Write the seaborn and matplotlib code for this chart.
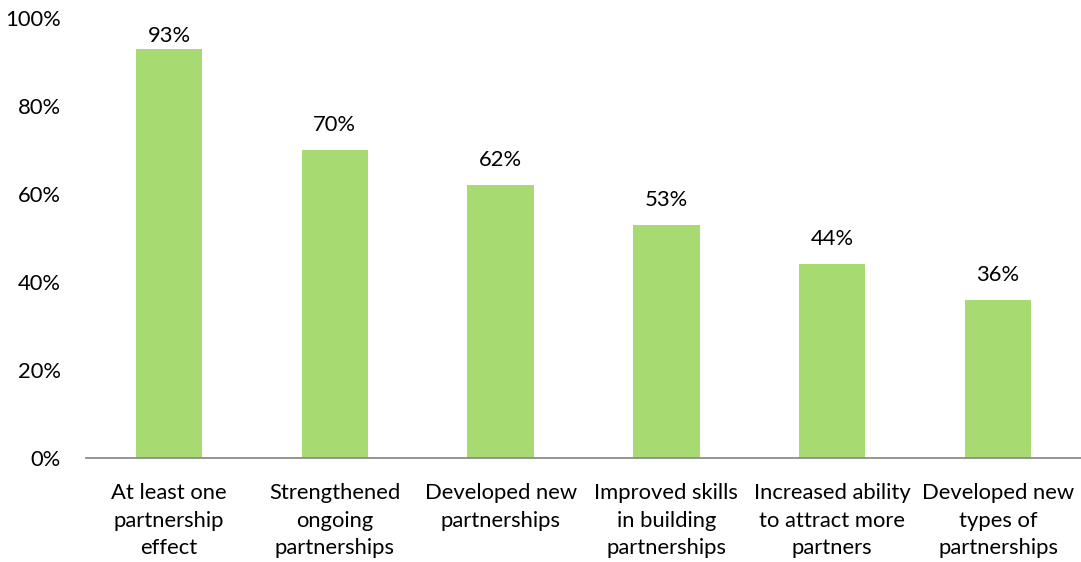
import matplotlib
matplotlib.use("Agg")
import matplotlib.pyplot as plt
import seaborn as sns
import pandas as pd

categories = [
    "At least one\npartnership\neffect",
    "Strengthened\nongoing\npartnerships",
    "Developed new\npartnerships",
    "Improved skills\nin building\npartnerships",
    "Increased ability\nto attract more\npartners",
    "Developed new\ntypes of\npartnerships",
]
values = [93, 70, 62, 53, 44, 36]
y_ticks = [0, 20, 40, 60, 80, 100]

sns.set_theme(style="white")
plt.rcParams["font.family"] = ["Lato", "DejaVu Sans"]

df = pd.DataFrame({"category": categories, "value": values})

fig = plt.figure(figsize=(10.81, 5.62), dpi=100)
ax = fig.add_axes([0.0796, 0.185, 0.9204, 0.783])

sns.barplot(data=df, x="category", y="value", color="#A8DA72",
            saturation=1, width=0.40, linewidth=0, ax=ax)

fs = 15.8
# value labels sit above each bar, kept inside the plot area near the top
for patch, v in zip(ax.patches, values):
    ax.text(patch.get_x() + patch.get_width() / 2, min(v + 5.7, 95.8), f"{v}%",
            ha="center", va="center", fontsize=fs, color="#000000")

ax.set_ylim(0, 100)
ax.set_xlim(-0.5, len(categories) - 0.5)
ax.set_yticks(y_ticks)
ax.set_yticklabels([f"{t}%" for t in y_ticks], fontsize=fs, color="#000000")
ax.set_xticklabels(categories, fontsize=fs, color="#000000", linespacing=1.47)
ax.set_xlabel("")
ax.set_ylabel("")
ax.tick_params(axis="both", length=0)
ax.tick_params(axis="y", pad=18)
ax.tick_params(axis="x", pad=18)

for side in ["top", "right", "left"]:
    ax.spines[side].set_visible(False)
ax.spines["bottom"].set_color("#8C8C8C")
ax.spines["bottom"].set_linewidth(1.3)

fig.savefig("out.png", dpi=100)
